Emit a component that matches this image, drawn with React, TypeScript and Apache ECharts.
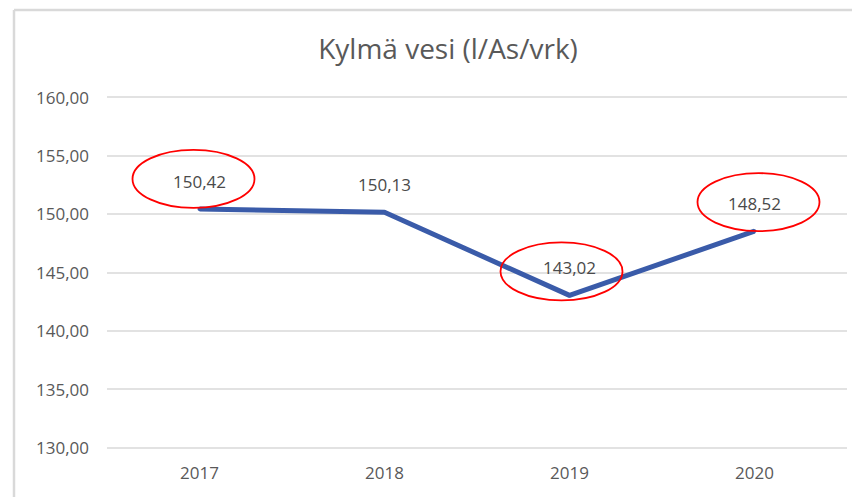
import React, { useEffect, useRef } from "react";
import * as echarts from "echarts";

const categories = ["2017", "2018", "2019", "2020"];
const values = [150.42, 150.13, 143.02, 148.52];
const yTicks = { min: 130, max: 160, interval: 5 };
// annotation ellipses (category index, offset from point)
const circled = [0, 2, 3];
const circleOffsets = [
  [-6, -30],
  [-8, -24],
  [4, -29],
];

const fmt = (v: number) => v.toFixed(2).replace(".", ",");

export default function App() {
  const ref = useRef<HTMLDivElement>(null);
  useEffect(() => {
    if (!ref.current) return;
    const chart = echarts.init(ref.current, null, { renderer: "svg" });
    const font = "'Open Sans', 'Noto Sans', sans-serif";
    chart.setOption({
      animation: false,
      backgroundColor: "#ffffff",
      title: {
        text: "Kylmä vesi (l/As/vrk)",
        left: 443,
        textAlign: "center",
        top: 29,
        textStyle: { fontFamily: font, fontSize: 28, fontWeight: "normal", color: "#595959" },
      },
      grid: { left: 107, right: 5, top: 97, height: 350.5 },
      xAxis: {
        type: "category",
        data: categories,
        axisLine: { show: false },
        axisTick: { show: false },
        axisLabel: { color: "#595959", fontFamily: font, fontSize: 17, margin: 16 },
      },
      yAxis: {
        type: "value",
        min: yTicks.min,
        max: yTicks.max,
        interval: yTicks.interval,
        axisLine: { show: false },
        axisTick: { show: false },
        splitLine: { lineStyle: { color: "#d9d9d9", width: 1.5 } },
        axisLabel: {
          color: "#595959",
          fontFamily: font,
          fontSize: 17,
          margin: 18,
          formatter: (v: number) => fmt(v),
        },
      },
      series: [
        {
          type: "line",
          data: values,
          symbol: "circle",
          symbolSize: 4,
          showSymbol: true,
          itemStyle: { color: "#3a5ba9" },
          lineStyle: { color: "#3a5ba9", width: 5 },
          label: {
            show: true,
            position: "top",
            distance: 17,
            color: "#4a4a4a",
            fontFamily: font,
            fontSize: 17,
            formatter: (p: any) => fmt(p.value),
          },
        },
      ],
    });
    const ellipses = circled.map((idx, i) => {
      const [px, py] = chart.convertToPixel({ seriesIndex: 0 }, [idx, values[idx]]) as number[];
      return {
        type: "ellipse",
        shape: { cx: px + circleOffsets[i][0], cy: py + circleOffsets[i][1], rx: 61, ry: 29 },
        style: { fill: "none", stroke: "#ff0000", lineWidth: 1.8 },
        z: 100,
      };
    });
    chart.setOption({
      graphic: [
        { type: "line", shape: { x1: 14, y1: 10, x2: 852, y2: 10 }, style: { stroke: "#d9d9d9", lineWidth: 2.5 } },
        { type: "line", shape: { x1: 14, y1: 10, x2: 14, y2: 497 }, style: { stroke: "#d9d9d9", lineWidth: 2.5 } },
        ...ellipses,
      ],
    });
    return () => chart.dispose();
  }, []);
  return <div ref={ref} style={{ position: "fixed", left: 0, top: 0, width: 852, height: 497 }} />;
}
